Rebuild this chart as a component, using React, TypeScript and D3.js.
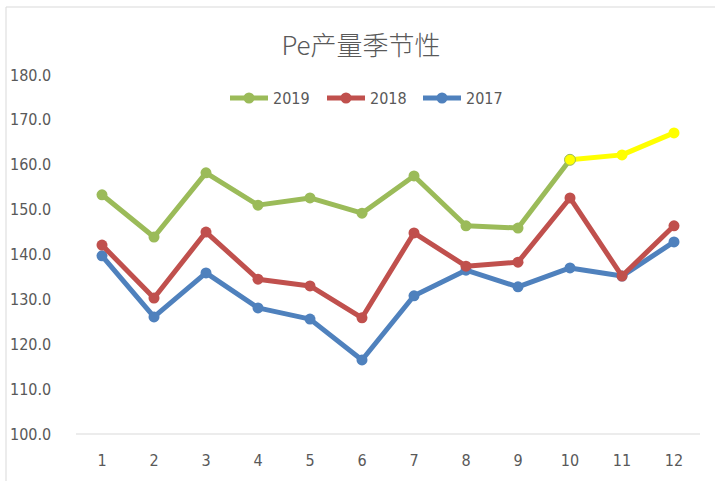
import React from 'react'
import * as d3 from 'd3'

const months = ['1', '2', '3', '4', '5', '6', '7', '8', '9', '10', '11', '12']
const yTicks = [100, 110, 120, 130, 140, 150, 160, 170, 180]

const s2019 = [153.3, 143.9, 158.2, 151.0, 152.6, 149.2, 157.5, 146.4, 145.9, 161.1, 162.2, 167.1]
const s2018 = [142.1, 130.3, 145.0, 134.5, 133.0, 125.9, 144.8, 137.4, 138.3, 152.6, 135.2, 146.4]
const s2017 = [139.7, 126.1, 135.9, 128.1, 125.6, 116.5, 130.8, 136.5, 132.8, 137.0, 135.2, 142.8]
// months from index 9 on are drawn in yellow for 2019
const highlightFrom = 9

const series = [
  {name: '2019', color: '#9BBB59', values: s2019},
  {name: '2018', color: '#C0504D', values: s2018},
  {name: '2017', color: '#4F81BD', values: s2017}
]

const font = '"Liberation Sans Narrow", "DejaVu Sans Condensed", sans-serif'

export default function App() {
  const width = 715
  const height = 481

  const x = d3.scaleBand<string>().domain(months).range([76, 700])
  const y = d3.scaleLinear().domain([100, 180]).range([434, 75])
  const cx = (i: number) => (x(months[i]) as number) + x.bandwidth() / 2

  const line = d3
    .line<number>()
    .x((d, i) => cx(i))
    .y(d => y(d))

  const legendX = [230, 327, 423]

  return (
    <svg
      width={width}
      height={height}
      style={{position: 'absolute', left: 0, top: 0, background: '#fff'}}
    >
      {/* sheet frame */}
      <line x1={6} x2={715} y1={7} y2={7} stroke="#d9d9d9" />
      <line x1={6} x2={6} y1={7} y2={481} stroke="#d9d9d9" />

      <text
        x={361}
        y={55}
        textAnchor="middle"
        fontSize={26}
        fill="#595959"
        fontFamily={'"Noto Sans CJK SC", sans-serif'}
        fontWeight={300}
      >
        Pe产量季节性
      </text>

      {/* y axis labels */}
      {yTicks.map(t => (
        <text
          key={t}
          x={10}
          y={y(t)}
          dy="0.35em"
          fontSize={16}
          fill="#595959"
          fontFamily={font}
        >
          {t.toFixed(1)}
        </text>
      ))}

      <line x1={76} x2={700} y1={y(100)} y2={y(100)} stroke="#d9d9d9" strokeWidth={1} />

      {/* x axis labels */}
      {months.map((m, i) => (
        <text
          key={m}
          x={cx(i)}
          y={460}
          dy="0.35em"
          textAnchor="middle"
          fontSize={16}
          fill="#595959"
          fontFamily={font}
        >
          {m}
        </text>
      ))}

      {/* series, drawn 2017 first so 2019 sits on top */}
      {[...series].reverse().map(s => {
        const isHl = s.name === '2019'
        const main = isHl ? s.values.slice(0, highlightFrom + 1) : s.values
        return (
          <g key={s.name}>
            <path
              d={line(main) || ''}
              fill="none"
              stroke={s.color}
              strokeWidth={5}
              strokeLinejoin="round"
            />
            {isHl && (
              <path
                d={
                  d3
                    .line<number>()
                    .x((d, i) => cx(i + highlightFrom))
                    .y(d => y(d))(s.values.slice(highlightFrom)) || ''
                }
                fill="none"
                stroke="#FFFF00"
                strokeWidth={5}
                strokeLinejoin="round"
              />
            )}
            {s.values.map((v, i) => {
              const hl = isHl && i >= highlightFrom
              return (
                <circle
                  key={i}
                  cx={cx(i)}
                  cy={y(v)}
                  r={5.5}
                  fill={hl ? '#FFFF00' : s.color}
                  stroke={isHl && i === highlightFrom ? s.color : 'none'}
                  strokeWidth={1}
                />
              )
            })}
          </g>
        )
      })}

      {/* legend */}
      {series.map((s, i) => (
        <g key={s.name} transform={`translate(${legendX[i]},98)`}>
          <line x1={0} x2={38} y1={0} y2={0} stroke={s.color} strokeWidth={5} />
          <circle cx={19} cy={0} r={5.5} fill={s.color} />
          <text x={43} y={0} dy="0.35em" fontSize={16} fill="#595959" fontFamily={font}>
            {s.name}
          </text>
        </g>
      ))}
    </svg>
  )
}
